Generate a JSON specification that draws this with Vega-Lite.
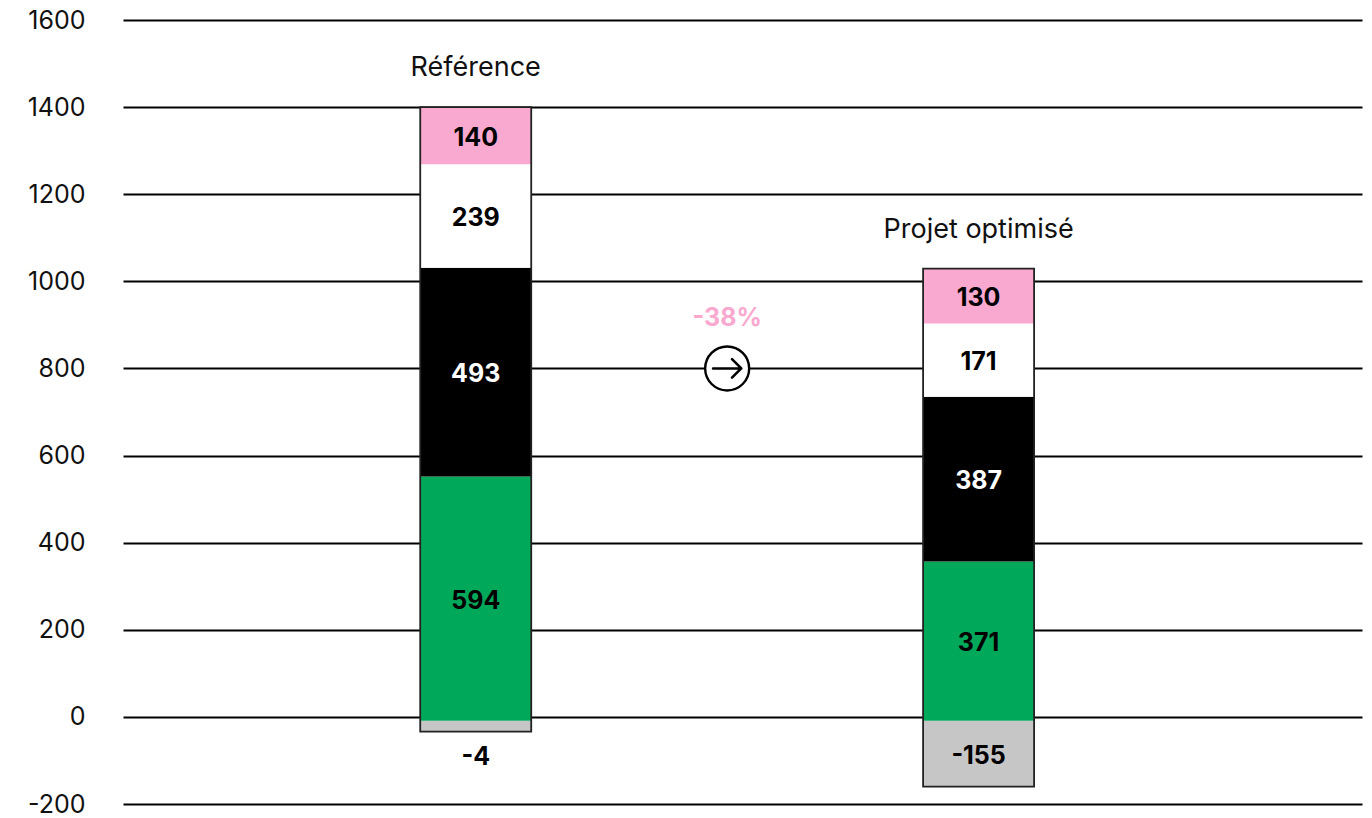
{
  "$schema": "https://vega.github.io/schema/vega-lite/v6.json",
  "width": 1239,
  "height": 784,
  "autosize": {"type": "none"},
  "padding": {"left": 123, "top": 20, "right": 10, "bottom": 14},
  "background": "white",
  "config": {"view": {"stroke": null}, "font": "Inter"},
  "datasets": {
    "segments": [
      {"bar": "Référence", "pos": 1, "seg": "neg", "value": -4, "start": -9, "end": -34, "outside": true},
      {"bar": "Référence", "pos": 1, "seg": "green", "value": 594, "start": -9, "end": 552, "outside": false},
      {"bar": "Référence", "pos": 1, "seg": "black", "value": 493, "start": 552, "end": 1031, "outside": false},
      {"bar": "Référence", "pos": 1, "seg": "white", "value": 239, "start": 1031, "end": 1269, "outside": false},
      {"bar": "Référence", "pos": 1, "seg": "pink", "value": 140, "start": 1269, "end": 1400, "outside": false},
      {"bar": "Projet optimisé", "pos": 3, "seg": "neg", "value": -155, "start": -9, "end": -160, "outside": false},
      {"bar": "Projet optimisé", "pos": 3, "seg": "green", "value": 371, "start": -9, "end": 357, "outside": false},
      {"bar": "Projet optimisé", "pos": 3, "seg": "black", "value": 387, "start": 357, "end": 735, "outside": false},
      {"bar": "Projet optimisé", "pos": 3, "seg": "white", "value": 171, "start": 735, "end": 903, "outside": false},
      {"bar": "Projet optimisé", "pos": 3, "seg": "pink", "value": 130, "start": 903, "end": 1029, "outside": false}
    ],
    "bars": [
      {"bar": "Référence", "pos": 1, "bottom": -34, "top": 1400},
      {"bar": "Projet optimisé", "pos": 3, "bottom": -160, "top": 1029}
    ],
    "change": [
      {"pos": 2, "y": 800, "label": "-38%"}
    ]
  },
  "encoding": {
    "x": {"field": "pos", "type": "quantitative", "scale": {"domain": [-0.383, 4.505], "nice": false, "zero": false}, "axis": null}
  },
  "layer": [
    {
      "data": {"name": "segments"},
      "mark": {"type": "bar", "size": 111},
      "encoding": {
        "y": {"field": "start", "type": "quantitative",
              "scale": {"domain": [-200, 1600], "nice": false, "zero": false},
              "axis": {"values": [-200, 0, 200, 400, 600, 800, 1000, 1200, 1400, 1600], "labelExpr": "'' + datum.value", "title": null, "domain": false, "ticks": false, "labelPadding": 38, "grid": true, "gridColor": "#000000", "gridWidth": 1.8, "labelFontSize": 25, "labelFont": "Inter", "labelColor": "#111", "labelFontWeight": 400}},
        "y2": {"field": "end"},
        "color": {"field": "seg", "type": "nominal", "legend": null,
                  "scale": {"domain": ["neg", "green", "black", "white", "pink"], "range": ["#c6c6c6", "#00a85a", "#000000", "#ffffff", "#f9a8cf"]}}
      }
    },
    {
      "data": {"name": "bars"},
      "mark": {"type": "bar", "size": 111, "fillOpacity": 0, "stroke": "#222222", "strokeWidth": 1.8},
      "encoding": {
        "y": {"field": "bottom", "type": "quantitative"},
        "y2": {"field": "top"}
      }
    },
    {
      "data": {"name": "segments"},
      "transform": [{"filter": "!datum.outside"}, {"calculate": "(datum.start + datum.end) / 2", "as": "mid"}],
      "mark": {"type": "text", "fontSize": 25, "fontWeight": 700, "font": "Inter", "baseline": "middle", "align": "center", "dy": 2},
      "encoding": {
        "y": {"field": "mid", "type": "quantitative"},
        "text": {"field": "value", "type": "nominal"},
        "color": {"condition": {"test": "datum.seg === 'black'", "value": "#ffffff"}, "value": "#000000"}
      }
    },
    {
      "data": {"name": "segments"},
      "transform": [{"filter": "datum.outside"}],
      "mark": {"type": "text", "fontSize": 25, "fontWeight": 700, "font": "Inter", "baseline": "middle", "align": "center", "dy": 25, "color": "#000000"},
      "encoding": {
        "y": {"field": "end", "type": "quantitative"},
        "text": {"field": "value", "type": "nominal"}
      }
    },
    {
      "data": {"name": "bars"},
      "mark": {"type": "text", "fontSize": 27, "fontWeight": 400, "font": "Inter", "baseline": "alphabetic", "align": "center", "dy": -31, "color": "#111111"},
      "encoding": {
        "y": {"field": "top", "type": "quantitative"},
        "text": {"field": "bar", "type": "nominal"}
      }
    },
    {
      "data": {"name": "change"},
      "mark": {"type": "point", "shape": "circle", "size": 1936, "filled": true, "fill": "#ffffff", "stroke": "#000000", "strokeWidth": 2.4, "opacity": 1, "fillOpacity": 1},
      "encoding": {
        "y": {"field": "y", "type": "quantitative"}
      }
    },
    {
      "data": {"name": "change"},
      "mark": {"type": "point", "shape": "M-0.64,0L0.64,0M0.22,-0.42L0.64,0L0.22,0.42", "size": 1936, "filled": false, "stroke": "#000000", "strokeWidth": 2.6, "opacity": 1, "strokeCap": "round", "strokeJoin": "round"},
      "encoding": {
        "y": {"field": "y", "type": "quantitative"}
      }
    },
    {
      "data": {"name": "change"},
      "mark": {"type": "text", "fontSize": 25, "fontWeight": 700, "font": "Inter", "baseline": "middle", "align": "center", "dy": -50, "color": "#f9a8cf"},
      "encoding": {
        "y": {"field": "y", "type": "quantitative"},
        "text": {"field": "label", "type": "nominal"}
      }
    }
  ]
}
